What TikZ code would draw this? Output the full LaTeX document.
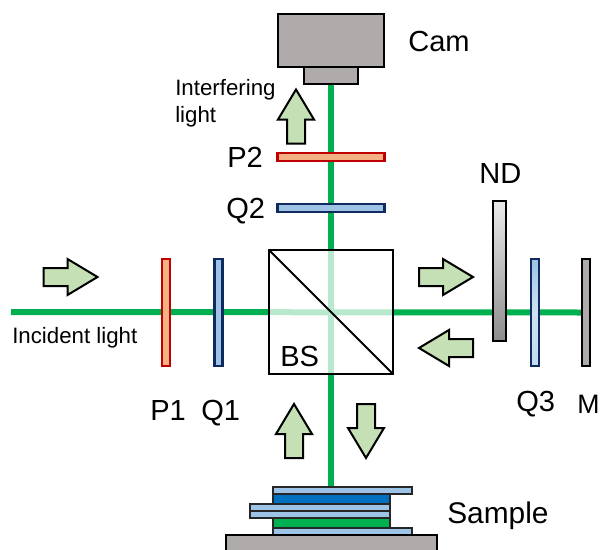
\documentclass[tikz,border=0pt]{standalone}
\usepackage{fontspec}
\setmainfont{Liberation Sans}
\usetikzlibrary{backgrounds}
\definecolor{beamgreen}{HTML}{00B050}
\definecolor{arrowfill}{HTML}{C5E0B4}
\definecolor{stagegray}{HTML}{AFABAB}
\definecolor{lightblue}{HTML}{9DC3E6}
\definecolor{deepblue}{HTML}{0070C0}
\definecolor{navy}{HTML}{0F2A5F}
\definecolor{wavered}{HTML}{C00000}
\definecolor{peach}{HTML}{F4B183}
\definecolor{edgedark}{HTML}{262626}
\newcommand{\lightarrowat}[3]{\draw[lightarrowstyle,shift={(#1,#2)},rotate=#3] (-27,-9) -- (-3,-9) -- (-3,-18) -- (27,0) -- (-3,18) -- (-3,9) -- (-27,9) -- cycle;}
\tikzset{
  sized/.style 2 args={rectangle,inner sep=0pt,outer sep=0pt,minimum width=#1*0.75pt,minimum height=#2*0.75pt},
  beam/.style={draw=beamgreen,line width=4.5pt},
  lightarrowstyle/.style={draw=black,line width=1.5pt,fill=arrowfill,line join=miter},
  gray box/.style={draw=black,line width=1.5pt,fill=stagegray},
  waveplate/.style={draw=navy,line width=1.6pt,fill=lightblue},
  polarizer/.style={draw=wavered,line width=1.6pt,fill=peach},
  layer/.style={draw=edgedark,line width=1.5pt},
  label/.style={inner sep=0pt,anchor=base west,font=\fontsize{21.8}{22}\selectfont},
  small label/.style={inner sep=0pt,anchor=base west,font=\fontsize{16.7}{17}\selectfont}
}
\begin{document}
\begin{tikzpicture}[x=0.75pt,y=-0.75pt]
\useasboundingbox (0,0) rectangle (600,550);
\clip (0,0) rectangle (600,550);
\coordinate (beamstart) at (11,312);
% components
\node[sized={106}{53},gray box] (cam) at (331,40.5) {};
\node[sized={54}{17},gray box] (lens) at (331,75.5) {};
\node[sized={107}{8},polarizer] (P2) at (331,157) {};
\node[sized={107}{8},waveplate] (Q2) at (331,208) {};
\node[sized={8}{107},polarizer] (P1) at (166,312.5) {};
\node[sized={8}{107},waveplate] (Q1) at (218.5,312.5) {};
\node[sized={124}{124},draw=black,line width=1.5pt,fill=white,fill opacity=0.72] (BS) at (331,312) {};
\draw[black,line width=1.5pt] (BS.north west) -- (BS.south east);
\node[sized={13}{140},draw=black,line width=1.5pt,top color=white!92!black,bottom color=black!45] (ND) at (499.5,271) {};
\node[sized={8}{107},draw=navy,line width=1.6pt,top color=lightblue,bottom color=lightblue!60!white,middle color=lightblue!50!white] (Q3) at (535,312.5) {};
\node[sized={8}{107},gray box] (M) at (586,312.5) {};
% sample stack
\node[sized={139}{7},layer,fill=lightblue] (s1) at (342.5,490.5) {};
\node[sized={117}{10},layer,fill=deepblue] (s2) at (331.5,499) {};
\node[sized={140}{7},layer,fill=lightblue] (s3) at (320,507.5) {};
\node[sized={140}{7},layer,fill=lightblue] (s4) at (320,514.5) {};
\node[sized={117}{10},layer,fill=beamgreen] (s5) at (331.5,523) {};
\node[sized={139}{7},layer,fill=lightblue] (s6) at (342.5,531.5) {};
\node[sized={211}{30},gray box] (stage) at (331.5,550) {};
% beams, beneath the components
\begin{pgfonlayer}{background}
\draw[beam] (beamstart) -- (M.west);
\draw[beam] (lens.south) -- (lens.south |- s1.north);
\end{pgfonlayer}
% propagation arrows
\lightarrowat{296}{116.5}{90}
\lightarrowat{70.5}{277}{0}
\lightarrowat{446}{277}{0}
\lightarrowat{446}{348}{180}
\lightarrowat{294}{431}{90}
\lightarrowat{366}{431}{-90}
% labels
\node[label] (tCam) at (408,51) {Cam};
\node[label] (tP2) at (227,167) {P2};
\node[label] (tQ2) at (226,218) {Q2};
\node[label] (tND) at (479,183) {ND};
\node[label] (tP1) at (150,420) {P1};
\node[label] (tQ1) at (201,420) {Q1};
\node[label] (tQ3) at (516,411) {Q3};
\node[label,font=\fontsize{20}{20}\selectfont] (tM) at (577,413) {M};
\node[label] (tBS) at (280,366) {BS};
\node[label,font=\fontsize{22.4}{22}\selectfont] (tSample) at (447,523) {Sample};
\node[small label] (tInc) at (12,343) {Incident light};
\node[small label] (tInt1) at (175,95) {Interfering};
\node[small label] (tInt2) at (175,122) {light};
\end{tikzpicture}
\end{document}
